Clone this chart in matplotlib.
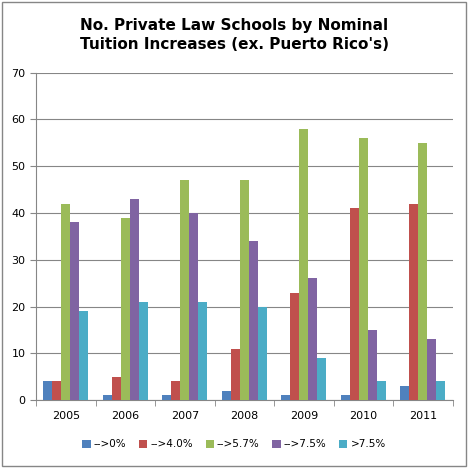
import matplotlib
matplotlib.use("Agg")
import matplotlib.pyplot as plt
import numpy as np

years = ["2005", "2006", "2007", "2008", "2009", "2010", "2011"]
series_names = ["-->0%", "-->4.0%", "-->5.7%", "-->7.5%", ">7.5%"]
s0 = [4, 1, 1, 2, 1, 1, 3]
s4 = [4, 5, 4, 11, 23, 41, 42]
s57 = [42, 39, 47, 47, 58, 56, 55]
s75 = [38, 43, 40, 34, 26, 15, 13]
sgt = [19, 21, 21, 20, 9, 4, 4]
colors = ["#4F81BD", "#C0504D", "#9BBB59", "#8064A2", "#4BACC6"]

fig = plt.figure(figsize=(4.68, 4.68), dpi=100)
fig.patches.append(plt.Rectangle((0.004, 0.004), 0.992, 0.992, transform=fig.transFigure,
                                 fill=False, edgecolor="#868686", linewidth=1))
ax = fig.add_axes([0.077, 0.145, 0.89, 0.70])
x = np.arange(len(years))
w = 0.15
for i, (vals, name) in enumerate(zip([s0, s4, s57, s75, sgt], series_names)):
    ax.bar(x + (i - 2) * w, vals, w, color=colors[i], label=name, zorder=3)
ax.set_xlim(-0.5, len(years) - 0.5)
ax.set_ylim(0, 70)
ax.set_yticks(range(0, 71, 10))
ax.yaxis.grid(True, color="#868686", linewidth=0.8, zorder=0)
ax.set_xticks(x)
ax.set_xticklabels(years)
ax.set_xticks(np.arange(-0.5, len(years), 1), minor=True)
ax.tick_params(axis="x", which="major", length=0, labelsize=8, pad=8)
ax.tick_params(axis="x", which="minor", length=4, color="#868686", direction="out")
ax.tick_params(axis="y", length=4, color="#868686", labelsize=8)
for sp in ["top", "right"]:
    ax.spines[sp].set_visible(False)
for sp in ["left", "bottom"]:
    ax.spines[sp].set_color("#868686")
fig.text(0.5, 0.925, "No. Private Law Schools by Nominal\nTuition Increases (ex. Puerto Rico's)",
         ha="center", va="center", fontsize=11, fontweight="bold", linespacing=1.3)
fig.legend(loc="lower center", bbox_to_anchor=(0.5, 0.02), ncol=5, frameon=False,
           fontsize=7.5, handlelength=0.8, handleheight=0.8, columnspacing=1.2, handletextpad=0.3)
fig.savefig("out.png", dpi=100)
